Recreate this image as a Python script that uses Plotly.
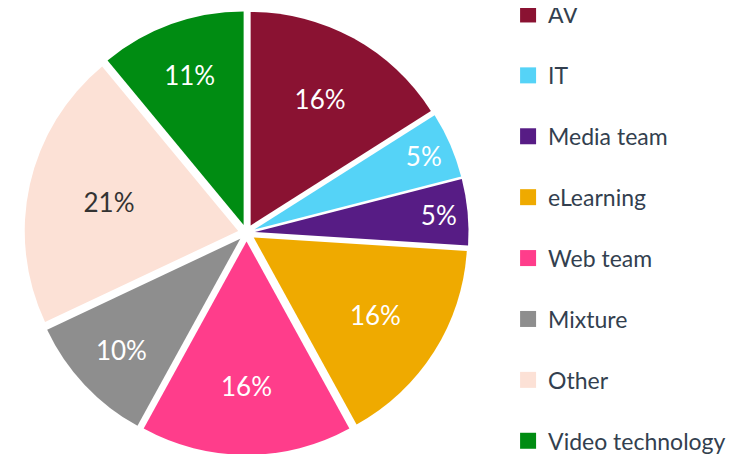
import plotly.graph_objects as go

labels = ["AV", "IT", "Media team", "eLearning", "Web team", "Mixture", "Other", "Video technology"]
values = [16, 5, 5, 16, 16, 10, 21, 11]
colors = ["#8A1232", "#55D3F7", "#571C85", "#EFAA00", "#FF3D8B", "#8E8E8E", "#FCE1D6", "#008C12"]
text_colors = ["white", "white", "white", "white", "white", "white", "#333333", "white"]

fig = go.Figure()
fig.add_trace(go.Pie(
    labels=labels, values=values, sort=False, direction="clockwise", rotation=0,
    marker=dict(colors=colors, line=dict(width=0)),
    pull=[0.04] * len(values),
    textinfo="percent", texttemplate="%{percent:.0%}",
    textposition="inside", insidetextorientation="horizontal",
    textfont=dict(family="Lato", size=26, color=text_colors),
    domain=dict(x=[0.0217, 0.6127], y=[0.0156, 0.9936]),
    showlegend=False,
))

for i, (lab, col) in enumerate(zip(labels, colors)):
    fig.add_trace(go.Scatter(
        x=[None], y=[None], mode="markers", name=lab,
        marker=dict(symbol="square", size=16, color=col),
        legendgroup=f"g{i}", showlegend=True,
    ))

fig.update_layout(
    width=752, height=454,
    margin=dict(l=0, r=0, t=0, b=0, autoexpand=False),
    paper_bgcolor="white", plot_bgcolor="white",
    xaxis=dict(visible=False), yaxis=dict(visible=False),
    legend=dict(x=0.665, y=1.033, xanchor="left", yanchor="top",
                font=dict(family="Lato", size=23, color="#333F4F"),
                tracegroupgap=28, itemwidth=30, maxheight=800),
)

fig.write_html("out.html")
